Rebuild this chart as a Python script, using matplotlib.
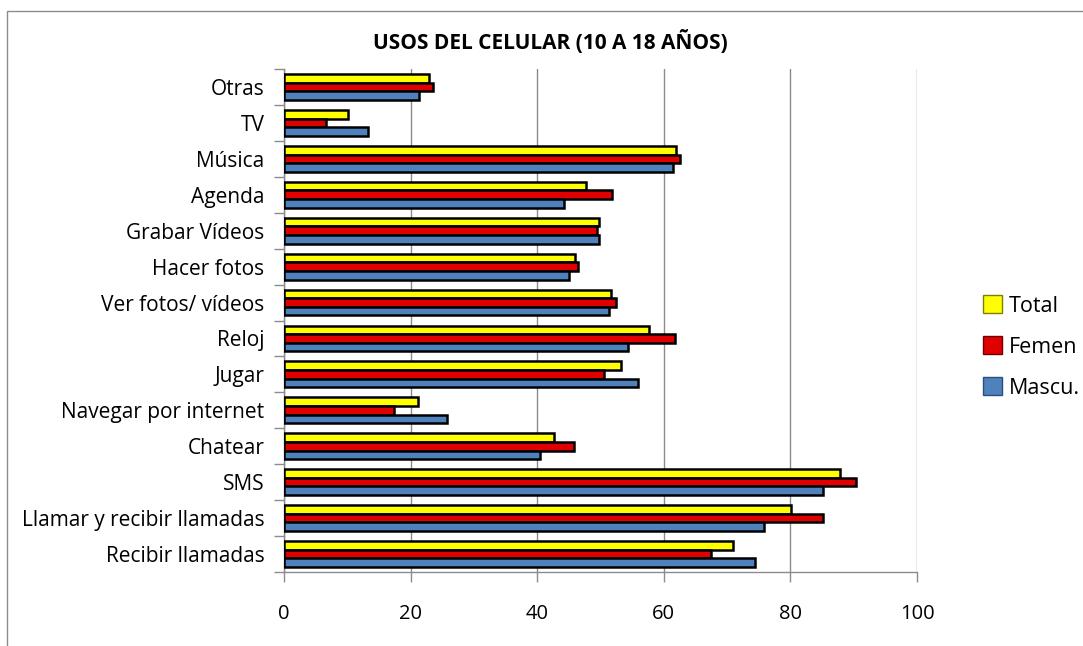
import matplotlib
matplotlib.use("Agg")
import matplotlib.pyplot as plt
import numpy as np
from matplotlib.patches import Rectangle

categories = ["Otras", "TV", "Música", "Agenda", "Grabar Vídeos", "Hacer fotos",
              "Ver fotos/ vídeos", "Reloj", "Jugar", "Navegar por internet",
              "Chatear", "SMS", "Llamar y recibir llamadas", "Recibir llamadas"]
total = [22.9, 10.1, 61.9, 47.7, 49.7, 46.0, 51.7, 57.6, 53.3, 21.2, 42.6, 87.9, 80.1, 71.0]
femen = [23.6, 6.7, 62.5, 51.8, 49.5, 46.4, 52.4, 61.8, 50.5, 17.4, 45.8, 90.4, 85.2, 67.5]
mascu = [21.4, 13.3, 61.4, 44.2, 49.8, 45.0, 51.3, 54.3, 56.0, 25.8, 40.5, 85.2, 75.8, 74.4]
series_names = ["Total", "Femen", "Mascu."]
xticks = [0, 20, 40, 60, 80, 100]

plt.rcParams['font.family'] = ['Open Sans', 'DejaVu Sans']

fig = plt.figure(figsize=(10.83, 6.46), dpi=100)
W, H = 1083, 646
ax = fig.add_axes([284 / W, 1 - 572 / H, (917 - 284) / W, (572 - 69) / H])

n = len(categories)
ypos = np.arange(n)[::-1].astype(float)  # Otras on top
bh = 0.24
colors = ["#FFFF00", "#E00000", "#4F81BD"]
legend_edges = ["#7f7f00", "#700000", "#2c4d75"]
data = [total, femen, mascu]
offsets = [bh, 0, -bh]
handles = []
for vals, c, off, name in zip(data, colors, offsets, series_names):
    b = ax.barh(ypos + off, vals, height=bh, color=c, edgecolor="black",
                linewidth=1.8, label=name, zorder=3)
    handles.append(b)

ax.set_xlim(0, 100)
ax.set_ylim(-0.5, n - 0.5)
ax.set_xticks(xticks)
ax.set_xticklabels([str(t) for t in xticks], fontsize=14.5)
ax.xaxis.grid(True, color="#8c8c8c", linewidth=1.0, zorder=0)
ax.set_yticks(ypos)
ax.set_yticklabels(categories, fontsize=15)
ax.tick_params(axis="y", length=0, pad=14)
ax.set_yticks(np.arange(n + 1) - 0.5, minor=True)
ax.tick_params(axis="y", which="minor", length=7, color="#8c8c8c", width=1)
ax.tick_params(axis="x", length=7, color="#8c8c8c", width=1, pad=16)
for s in ["top", "right"]:
    ax.spines[s].set_visible(False)
for s in ["left", "bottom"]:
    ax.spines[s].set_color("#8c8c8c")
    ax.spines[s].set_linewidth(1.0)

fig.text(550 / W, 1 - 42 / H, "USOS DEL CELULAR (10 A 18 AÑOS)", ha="center",
         va="center", fontsize=15, fontweight="bold")

leg = fig.legend(handles=handles, labels=series_names, loc="center left",
                 bbox_to_anchor=(974 / W, 1 - 347 / H), frameon=False,
                 fontsize=15.5, handlelength=0.9, handleheight=0.9,
                 handletextpad=0.3, labelspacing=0.92, borderaxespad=0)
for h, ec in zip(leg.legend_handles, legend_edges):
    h.set_edgecolor(ec)
    h.set_linewidth(1.0)

fig.patches.append(Rectangle((7 / W, 1 - 700 / H), (1150 - 7) / W, (700 - 11) / H,
                             transform=fig.transFigure, fill=False,
                             edgecolor="#8c8c8c", linewidth=1.0))

fig.savefig("out.png", dpi=100)
